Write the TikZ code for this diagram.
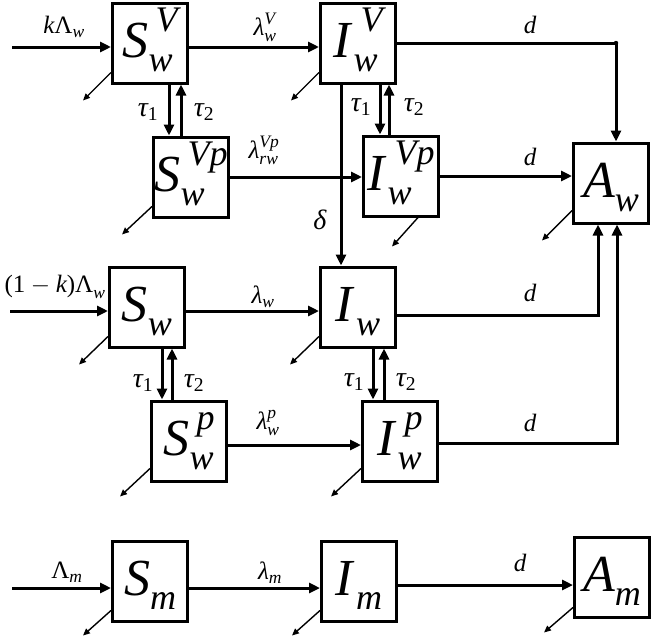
\documentclass[tikz,border=0pt]{standalone}
\usepackage{amsmath}
\usepackage{fontspec}
\setmainfont{Liberation Serif}
\usetikzlibrary{arrows.meta,calc}
\newcommand{\ti}[1]{\text{\itshape #1}}
\newcommand{\up}[1]{\text{\upshape #1}}
% big compartment label: letter, superscript, subscript, kern sup, kern sub
\newcommand{\bxl}[5]{\textit{#1}\raisebox{-14pt}{\fontsize{36}{40}\selectfont\itshape
  \begin{tabular}[b]{@{}l@{}}\kern#4\relax #2\\\kern#5\relax #3\end{tabular}}}
\begin{document}
\begin{tikzpicture}[x=1pt,y=-1pt,
  box/.style={draw, line width=3pt, minimum width=75pt, minimum height=72pt, inner sep=0pt, font=\fontsize{52}{52}\selectfont},
  lab/.style={font=\fontsize{25}{25}\selectfont, inner sep=0pt},
  tlab/.style={font=\fontsize{28}{28}\selectfont, inner sep=0pt},
  arr/.style={line width=3pt, -{Triangle[length=11pt,width=10pt]}},
  death/.style={line width=1.4pt, -{Triangle[length=7pt,width=6pt]}},
]
\useasboundingbox (0,0) rectangle (658,640);
% boxes
\node[box] (SV)  at (150,43)  {\bxl{S}{V}{w}{7pt}{0pt}};
\node[box] (IV)  at (358,43)  {\bxl{I}{V}{w}{8pt}{1pt}};
\node[box] (SVp) at (191,177) {\bxl{S}{Vp}{w}{7pt}{0pt}};
\node[box] (IVp) at (401,176) {\bxl{I}{Vp}{w}{8pt}{1pt}};
\node[box] (Aw)  at (611,183) {\bxl{A}{}{w}{0pt}{0pt}};
\node[box] (Sw)  at (147,307) {\bxl{S}{}{w}{0pt}{0pt}};
\node[box] (Iw)  at (358,307) {\bxl{I}{}{w}{0pt}{1pt}};
\node[box] (Sp)  at (189,441) {\bxl{S}{p}{w}{7pt}{0pt}};
\node[box] (Ip)  at (400,441) {\bxl{I}{p}{w}{8pt}{1pt}};
\node[box] (Sm)  at (150,581) {\bxl{S}{}{m}{0pt}{0pt}};
\node[box] (Im)  at (359,581) {\bxl{I}{}{m}{0pt}{1pt}};
\node[box] (Am)  at (612,577) {\bxl{A}{}{m}{0pt}{0pt}};
% inflows
\coordinate (inSV) at (12,47);
\coordinate (inSw) at (10,311);
\coordinate (inSm) at (12,588);
\draw[arr] (inSV) -- (inSV -| SV.west);
\draw[arr] (inSw) -- (inSw -| Sw.west);
\draw[arr] (inSm) -- (inSm -| Sm.west);
% infections
\coordinate (h1) at ([yshift=-4pt]SV.east);
\draw[arr] (h1) -- (h1 -| IV.west);
\draw[arr] (SVp.east) -- (SVp.east -| IVp.west);
\coordinate (h3) at ([yshift=-4pt]Sw.east);
\draw[arr] (h3) -- (h3 -| Iw.west);
\coordinate (h4) at ([yshift=-4pt]Sp.east);
\draw[arr] (h4) -- (h4 -| Ip.west);
\coordinate (h5) at ([yshift=-7pt]Sm.east);
\draw[arr] (h5) -- (h5 -| Im.west);
\coordinate (h6) at ([yshift=-4pt]Im.east);
\draw[arr] (h6) -- (h6 -| Am.west);
% to A_w
\coordinate (awt) at ([xshift=5pt]Aw.north);
\draw[arr] (IV.east) -- (IV.east -| awt) -- (awt);
\fill (IV.east -| awt) circle (2.2pt);
\draw[arr] (IVp.east) -- (IVp.east -| Aw.west);
\coordinate (aws1) at ([xshift=-13pt]Aw.south);
\coordinate (aws2) at ([xshift=6pt]Aw.south);
\coordinate (iwe) at ([yshift=-8pt]Iw.east);
\coordinate (ipe) at ([yshift=-2pt]Ip.east);
\draw[arr] (iwe) -- (iwe -| aws1) -- (aws1);
\draw[arr] (ipe) -- (ipe -| aws2) -- (aws2);
% delta
\coordinate (dl) at ([xshift=-17pt]IV.south);
\draw[arr] (dl) -- (dl |- Iw.north);
% tau arrows
\coordinate (t1) at ([xshift=19pt]SV.south);
\draw[arr] (t1) -- (t1 |- SVp.north);
\coordinate (t2) at ([xshift=-10pt]SVp.north);
\draw[arr] (t2) -- (t2 |- SV.south);
\coordinate (t3) at ([xshift=22pt]IV.south);
\draw[arr] (t3) -- (t3 |- IVp.north);
\coordinate (t4) at ([xshift=-12pt]IVp.north);
\draw[arr] (t4) -- (t4 |- IV.south);
\coordinate (t5) at ([xshift=15pt]Sw.south);
\draw[arr] (t5) -- (t5 |- Sp.north);
\coordinate (t6) at ([xshift=-17pt]Sp.north);
\draw[arr] (t6) -- (t6 |- Sw.south);
\coordinate (t7) at ([xshift=15pt]Iw.south);
\draw[arr] (t7) -- (t7 |- Ip.north);
\coordinate (t8) at ([xshift=-16pt]Ip.north);
\draw[arr] (t8) -- (t8 |- Iw.south);
% deaths
\draw[death] ($(SV.south west)+(0,-12)$) -- ++(-28,28);
\draw[death] ($(IV.south west)+(0,-12)$) -- ++(-28,28);
\draw[death] ($(SVp.south west)+(0,-12)$) -- ++(-30,28);
\draw[death] ($(IVp.south east)+(-22,0)$) -- ++(-26,29);
\draw[death] ($(Aw.south west)+(0,-14)$) -- ++(-30,30);
\draw[death] ($(Sw.south west)+(0,-12)$) -- ++(-29,28);
\draw[death] ($(Iw.south west)+(0,-12)$) -- ++(-29,28);
\draw[death] ($(Sp.south west)+(0,-14)$) -- ++(-30,28);
\draw[death] ($(Ip.south west)+(0,-14)$) -- ++(-30,28);
\draw[death] ($(Sm.south west)+(0,-12)$) -- ++(-28,25);
\draw[death] ($(Im.south west)+(0,-12)$) -- ++(-28,25);
\draw[death] ($(Am.south west)+(0,-11)$) -- ++(-29,25);
% labels
\node[lab] (l1) at (64,27) {$\ti{k}\up{Λ}_{\ti{w}}$};
\node[lab] (l2) at (265,27) {$\ti{λ}^{\ti{V}}_{\ti{w}}$};
\node[lab] (l3) at (530,25) {$\ti{d}$};
\node[tlab] (l4) at (148,112) {$\ti{τ}_{\up{1}}$};
\node[tlab] (l5) at (204,112) {$\ti{τ}_{\up{2}}$};
\node[tlab] (l6) at (361,107) {$\ti{τ}_{\up{1}}$};
\node[tlab] (l7) at (414,107) {$\ti{τ}_{\up{2}}$};
\node[lab] (l8) at (264,150) {$\ti{λ}^{\ti{Vp}}_{\ti{rw}}$};
\node[lab] (l9) at (530,157) {$\ti{d}$};
\node[tlab] (l10) at (320,220) {$\ti{δ}$};
\node[lab] (l11) at (55,287) {$\up{(1}-\ti{k}\up{)Λ}_{\ti{w}}$};
\node[lab] (l12) at (263,297) {$\ti{λ}_{\ti{w}}$};
\node[lab] (l13) at (530,293) {$\ti{d}$};
\node[tlab] (l14) at (143,383) {$\ti{τ}_{\up{1}}$};
\node[tlab] (l15) at (194,383) {$\ti{τ}_{\up{2}}$};
\node[tlab] (l16) at (354,382) {$\ti{τ}_{\up{1}}$};
\node[tlab] (l17) at (406,382) {$\ti{τ}_{\up{2}}$};
\node[lab] (l18) at (268,423) {$\ti{λ}^{\ti{p}}_{\ti{w}}$};
\node[lab] (l19) at (530,423) {$\ti{d}$};
\node[lab] (l20) at (67,572) {$\up{Λ}_{\ti{m}}$};
\node[lab] (l21) at (270,573) {$\ti{λ}_{\ti{m}}$};
\node[lab] (l22) at (520,563) {$\ti{d}$};
\end{tikzpicture}
\end{document}
